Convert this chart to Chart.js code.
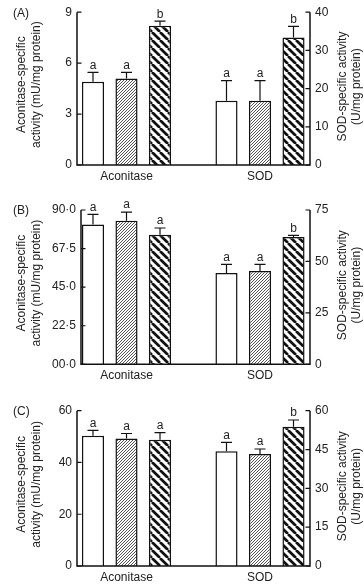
<!DOCTYPE html>
<html>
<head>
<meta charset="utf-8">
<script src="https://cdn.jsdelivr.net/npm/chart.js@4/dist/chart.umd.min.js"></script>
<style>
  html, body { margin: 0; padding: 0; background: #fff; }
  body { width: 364px; height: 586px; position: relative; overflow: hidden; }
  .panel { position: absolute; left: 0; width: 364px; }
</style>
</head>
<body>
<div class="panel" style="top:0;height:195px"><canvas id="chartA"></canvas></div>
<div class="panel" style="top:195px;height:195px"><canvas id="chartB"></canvas></div>
<div class="panel" style="top:390px;height:196px"><canvas id="chartC"></canvas></div>
<script>
const categories = ["Aconitase", "SOD"];
const panelLabels = ["(A)", "(B)", "(C)"];
const leftTitle = ["Aconitase-specific", "activity (mU/mg protein)"];
const rightTitle = ["SOD-specific activity", "(U/mg protein)"];

// (A)
const aconA = [4.9, 5.1, 8.2];
const aconErrA = [0.55, 0.35, 0.27];
const sodA = [16.8, 16.8, 33.4];
const sodErrA = [5.3, 5.3, 2.9];
const lettersA = ["a", "a", "b", "a", "a", "b"];
const leftTicksA = [0, 3, 6, 9];
const leftTickLabelsA = ["0", "3", "6", "9"];
const rightTicksA = [0, 10, 20, 30, 40];

// (B)
const aconB = [81.6, 83.8, 75.6];
const aconErrB = [5.9, 5.0, 3.9];
const sodB = [44.4, 45.4, 61.9];
const sodErrB = [4.2, 3.2, 0.8];
const lettersB = ["a", "a", "a", "a", "a", "b"];
const leftTicksB = [0, 22.5, 45, 67.5, 90];
const leftTickLabelsB = ["00·0", "22·5", "45·0", "67·5", "90·0"];
const rightTicksB = [0, 25, 50, 75];

// (C)
const aconC = [50.3, 49.3, 48.8];
const aconErrC = [2.1, 1.9, 2.7];
const sodC = [44.3, 43.3, 53.8];
const sodErrC = [3.5, 1.9, 2.6];
const lettersC = ["a", "a", "a", "a", "a", "b"];
const leftTicksC = [0, 20, 40, 60];
const leftTickLabelsC = ["0", "20", "40", "60"];
const rightTicksC = [0, 15, 30, 45, 60];

Chart.defaults.font.family = '"Liberation Sans", Arial, sans-serif';
Chart.defaults.font.size = 12;
Chart.defaults.color = "#222";

function makePattern(size, draw) {
    const c = document.createElement("canvas");
    c.width = size; c.height = size;
    const g = c.getContext("2d");
    g.fillStyle = "#fff";
    g.fillRect(0, 0, size, size);
    draw(g, size);
    return g.createPattern(c, "repeat");
}

const fineHatch = makePattern(3, (g, s) => {
    g.strokeStyle = "#555";
    g.lineWidth = 1;
    for (const k of [-s, 0, s]) {
        g.beginPath(); g.moveTo(k, s); g.lineTo(k + s, 0); g.stroke();
    }
});
const wideHatch = makePattern(8, (g, s) => {
    g.strokeStyle = "#111";
    g.lineWidth = 2.7;
    for (const k of [-s, 0, s]) {
        g.beginPath(); g.moveTo(k, 0); g.lineTo(k + s, s); g.stroke();
    }
});
const fills = ["#fff", fineHatch, wideHatch];

// inner tick marks, axis lines, error bars, letters, titles
const decorPlugin = {
    id: "decor",
    afterDatasetsDraw(chart) {
        const ctx = chart.ctx;
        const { left, right, top, bottom } = chart.chartArea;
        const y = chart.scales.y, y1 = chart.scales.y1;
        ctx.save();
        ctx.strokeStyle = "#111";
        ctx.fillStyle = "#222";

        // error bars and letters
        chart.data.datasets.forEach((ds, i) => {
            const meta = chart.getDatasetMeta(i);
            const scale = chart.scales[ds.yAxisID];
            meta.data.forEach((bar, j) => {
                const v = ds.data[j].y;
                const yTop = scale.getPixelForValue(v + ds.err);
                ctx.lineWidth = 1.2;
                ctx.beginPath();
                ctx.moveTo(bar.x, bar.y);
                ctx.lineTo(bar.x, yTop);
                ctx.moveTo(bar.x - 5.5, yTop);
                ctx.lineTo(bar.x + 5.5, yTop);
                ctx.stroke();
                ctx.font = '12px "Liberation Sans", Arial, sans-serif';
                ctx.textAlign = "center";
                ctx.textBaseline = "bottom";
                ctx.fillText(ds.letter, bar.x, yTop - 1);
            });
        });

        // axes
        ctx.lineWidth = 1.5;
        ctx.beginPath();
        ctx.moveTo(left, top); ctx.lineTo(left, bottom);
        ctx.moveTo(right, top); ctx.lineTo(right, bottom);
        ctx.moveTo(left - 0.75, bottom); ctx.lineTo(right + 0.75, bottom);
        ctx.stroke();
        ctx.lineWidth = 1.2;
        ctx.beginPath();
        y.ticks.forEach(t => {
            const py = y.getPixelForValue(t.value);
            ctx.moveTo(left, py); ctx.lineTo(left + 4.5, py);
        });
        y1.ticks.forEach(t => {
            const py = y1.getPixelForValue(t.value);
            ctx.moveTo(right - 4.5, py); ctx.lineTo(right, py);
        });
        ctx.stroke();
        ctx.restore();
    },
    afterDraw(chart, args, opts) {
        const ctx = chart.ctx;
        const { top, bottom } = chart.chartArea;
        const mid = (top + bottom) / 2;
        ctx.save();
        ctx.fillStyle = "#222";
        ctx.font = '12px "Liberation Sans", Arial, sans-serif';
        ctx.textBaseline = "middle";
        ctx.textAlign = "left";
        ctx.fillText(opts.label, 13, top + 1);

        ctx.textAlign = "center";
        const drawVert = (lines, xs, cy) => {
            lines.forEach((txt, k) => {
                ctx.save();
                ctx.translate(xs[k], cy);
                ctx.rotate(-Math.PI / 2);
                ctx.fillText(txt, 0, 0);
                ctx.restore();
            });
        };
        drawVert(leftTitle, [22, 36.5], mid - 4);
        drawVert(rightTitle, [343, 356.5], mid - 2);
        ctx.restore();
    }
};

const plotRight = 310;
const groupPx = [126.5, 260];

function buildChart(id, p) {
    const unit = groupPx[1] - groupPx[0];
    const xMin = -(groupPx[0] - p.plotLeft) / unit;
    const xMax = 1 + (plotRight - groupPx[1]) / unit;
    const canvasH = p.height;

    const datasets = [];
    for (let t = 0; t < 3; t++) {
        const common = {
            stack: "s" + t,
            backgroundColor: fills[t],
            borderColor: "#111",
            borderWidth: 1.5,
            categoryPercentage: 0.753,
            barPercentage: 0.66
        };
        datasets.push(Object.assign({}, common, {
            data: [{ x: 0, y: p.acon[t] }],
            yAxisID: "y",
            err: p.aconErr[t],
            letter: p.letters[t]
        }));
        datasets.push(Object.assign({}, common, {
            data: [{ x: 1, y: p.sod[t] }],
            yAxisID: "y1",
            err: p.sodErr[t],
            letter: p.letters[t + 3]
        }));
    }

    return new Chart(document.getElementById(id), {
        type: "bar",
        data: { datasets: datasets },
        options: {
            responsive: true,
            maintainAspectRatio: false,
            animation: false,
            layout: { padding: { top: p.padTop, left: 0, right: 0, bottom: 0 } },
            scales: {
                x: {
                    type: "linear",
                    min: xMin,
                    max: xMax,
                    offset: false,
                    grid: { display: false, drawTicks: false, offset: false },
                    border: { display: false },
                    afterBuildTicks: s => { s.ticks = [{ value: 0 }, { value: 1 }]; },
                    afterFit: s => { s.height = canvasH - p.plotBottom; },
                    ticks: {
                        padding: 4,
                        maxRotation: 0,
                        autoSkip: false,
                        color: "#222",
                        font: { size: 12 },
                        callback: v => categories[v]
                    }
                },
                y: {
                    position: "left",
                    min: 0,
                    max: p.leftTicks[p.leftTicks.length - 1],
                    stacked: false,
                    grid: { display: false, drawTicks: false },
                    border: { display: false },
                    afterBuildTicks: s => { s.ticks = p.leftTicks.map(v => ({ value: v })); },
                    afterFit: s => { s.width = p.plotLeft; },
                    ticks: {
                        padding: 5,
                        color: "#222",
                        font: { size: 12 },
                        callback: (v, i) => p.leftTickLabels[i]
                    }
                },
                y1: {
                    position: "right",
                    min: 0,
                    max: p.rightTicks[p.rightTicks.length - 1],
                    stacked: false,
                    grid: { display: false, drawTicks: false },
                    border: { display: false },
                    afterBuildTicks: s => { s.ticks = p.rightTicks.map(v => ({ value: v })); },
                    afterFit: s => { s.width = 364 - plotRight; },
                    ticks: {
                        padding: 5,
                        color: "#222",
                        font: { size: 12 },
                        callback: v => String(v)
                    }
                }
            },
            plugins: {
                legend: { display: false },
                tooltip: { enabled: false },
                decor: { label: p.label }
            }
        },
        plugins: [decorPlugin]
    });
}

buildChart("chartA", {
    label: panelLabels[0], height: 195, padTop: 10, plotBottom: 165, plotLeft: 77,
    acon: aconA, aconErr: aconErrA, sod: sodA, sodErr: sodErrA, letters: lettersA,
    leftTicks: leftTicksA, leftTickLabels: leftTickLabelsA, rightTicks: rightTicksA
});
buildChart("chartB", {
    label: panelLabels[1], height: 195, padTop: 15, plotBottom: 169.3, plotLeft: 81,
    acon: aconB, aconErr: aconErrB, sod: sodB, sodErr: sodErrB, letters: lettersB,
    leftTicks: leftTicksB, leftTickLabels: leftTickLabelsB, rightTicks: rightTicksB
});
buildChart("chartC", {
    label: panelLabels[2], height: 196, padTop: 20.7, plotBottom: 176, plotLeft: 77,
    acon: aconC, aconErr: aconErrC, sod: sodC, sodErr: sodErrC, letters: lettersC,
    leftTicks: leftTicksC, leftTickLabels: leftTickLabelsC, rightTicks: rightTicksC
});
</script>
</body>
</html>
